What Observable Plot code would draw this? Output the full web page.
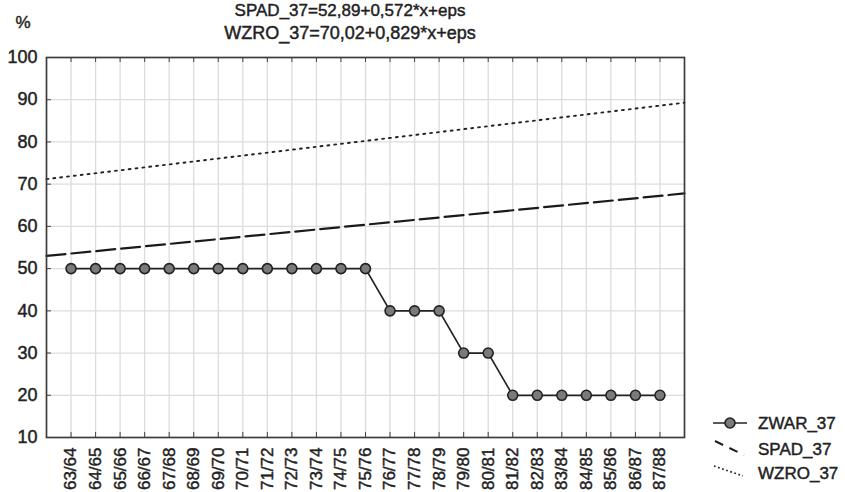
<!DOCTYPE html>
<html><head><meta charset="utf-8">
<script src="https://cdn.jsdelivr.net/npm/d3@7"></script>
<script src="https://cdn.jsdelivr.net/npm/@observablehq/plot@0.6"></script>
<style>
body{margin:0;background:#fff;}
#wrap{position:relative;width:845px;height:492px;font-family:"Liberation Sans",Arial,sans-serif;color:#222;overflow:hidden;}
.ov{position:absolute;left:0;top:0;pointer-events:none;}
#wrap svg text{stroke:#222;stroke-width:0.45px;}
</style>
</head><body>
<div id="wrap"></div>
<script>
// ---- data ----
const seasons = ["63/64","64/65","65/66","66/67","67/68","68/69","69/70","70/71","71/72","72/73","73/74","74/75","75/76","76/77","77/78","78/79","79/80","80/81","81/82","82/83","83/84","84/85","85/86","86/87","87/88"];
const zwar = [50,50,50,50,50,50,50,50,50,50,50,50,50,40,40,40,30,30,20,20,20,20,20,20,20];
const lineX = [0, 26];
const spad = [53.0, 67.8];
const wzro = [71.2, 89.3];
const yTicks = [10,20,30,40,50,60,70,80,90,100];
const gridYVals = [20,30,40,50,60,70,80,90];
const titles = ["SPAD_37=52,89+0,572*x+eps", "WZRO_37=70,02+0,829*x+eps"];
const seriesNames = ["ZWAR_37", "SPAD_37", "WZRO_37"];
const unitLabel = "%";

const idx = seasons.map((_, i) => i + 1);
const zData = zwar.map((v, i) => ({x: i + 1, y: v}));
const sData = lineX.map((x, i) => ({x, y: spad[i]}));
const wData = lineX.map((x, i) => ({x, y: wzro[i]}));

const W = 845, H = 492, mL = 46, mR = 161, mT = 57, mB = 55;
const fw = W - mL - mR, fh = H - mT - mB;

const chart = Plot.plot({
  width: W, height: H,
  marginLeft: mL, marginRight: mR, marginTop: mT, marginBottom: mB,
  style: {fontFamily: '"Liberation Sans", Arial, sans-serif', color: "#222", background: "#fff"},
  x: {domain: [0, 26]},
  y: {domain: [10, 100]},
  marks: [
    Plot.gridX(idx, {stroke: "#dcdcdc", strokeOpacity: 1, strokeWidth: 1.3}),
    Plot.gridY(gridYVals, {stroke: "#dcdcdc", strokeOpacity: 1, strokeWidth: 1.3}),
    Plot.tickX(idx, {x: d => d, insetTop: fh - 5, stroke: "#444"}),
    Plot.tickX(idx, {x: d => d, insetBottom: fh - 5, stroke: "#444"}),
    Plot.tickY(yTicks, {y: d => d, insetRight: fw - 5, stroke: "#444"}),
    Plot.axisY(yTicks, {tickSize: 0, tickPadding: 9, fontSize: 18, label: null}),
    Plot.axisX(idx, {tickSize: 0, tickPadding: 10, tickRotate: -90, fontSize: 17, label: null, tickFormat: d => seasons[d - 1]}),
    Plot.line(wData, {x: "x", y: "y", stroke: "#222", strokeWidth: 1.9, strokeDasharray: "1.9,5"}),
    Plot.line(sData, {x: "x", y: "y", stroke: "#1a1a1a", strokeWidth: 2.2, strokeDasharray: "19,6"}),
    Plot.line(zData, {x: "x", y: "y", stroke: "#222", strokeWidth: 1.7}),
    Plot.dot(zData, {x: "x", y: "y", r: 5, fill: "#7a7a7a", stroke: "#222", strokeWidth: 1.6}),
    Plot.frame({stroke: "#3c3c3c", strokeWidth: 1.7})
  ]
});
const wrap = document.getElementById("wrap");
wrap.appendChild(chart);

// overlay: titles, unit label, legend
const ns = "http://www.w3.org/2000/svg";
const ov = document.createElementNS(ns, "svg");
ov.setAttribute("class", "ov");
ov.setAttribute("width", W); ov.setAttribute("height", H);
ov.setAttribute("font-family", '"Liberation Sans", Arial, sans-serif');
function el(tag, attrs, text) {
  const e = document.createElementNS(ns, tag);
  for (const k in attrs) e.setAttribute(k, attrs[k]);
  if (text != null) e.textContent = text;
  ov.appendChild(e);
  return e;
}
el("text", {x: 350, y: 16, "text-anchor": "middle", "font-size": 17, fill: "#222"}, titles[0]);
el("text", {x: 350, y: 39, "text-anchor": "middle", "font-size": 18, fill: "#222"}, titles[1]);
el("text", {x: 23, y: 28, "text-anchor": "middle", "font-size": 17, fill: "#222"}, unitLabel);

// legend
const ly = [423, 449, 473];
el("line", {x1: 713, y1: ly[0], x2: 747, y2: ly[0], stroke: "#222", "stroke-width": 1.7});
el("circle", {cx: 730, cy: ly[0], r: 5, fill: "#7a7a7a", stroke: "#222", "stroke-width": 1.6});
el("line", {x1: 715, y1: ly[1] - 8, x2: 744, y2: ly[1] + 6, stroke: "#222", "stroke-width": 2.2, "stroke-dasharray": "9,7"});
el("line", {x1: 714, y1: ly[2] - 7, x2: 743, y2: ly[2] + 3, stroke: "#222", "stroke-width": 1.7, "stroke-dasharray": "1.7,2.6"});
seriesNames.forEach((n, i) => {
  el("text", {x: 758, y: ly[i] + 6, "font-size": 17, fill: "#222"}, n);
});
wrap.appendChild(ov);
</script>
</body></html>
